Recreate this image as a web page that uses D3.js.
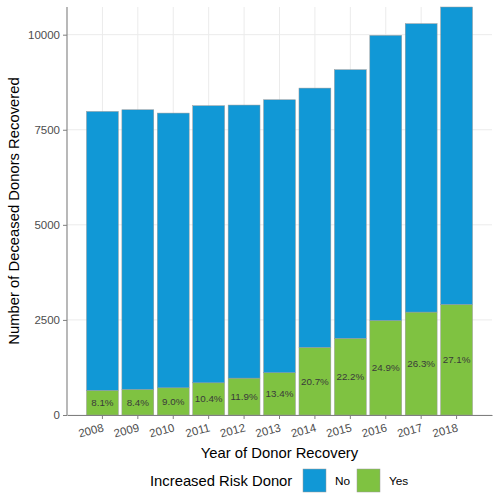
<!DOCTYPE html>
<html>
<head>
<meta charset="utf-8">
<script src="https://cdn.jsdelivr.net/npm/d3@7"></script>
<style>
  body { margin: 0; background: #fff; }
  text { font-family: "Liberation Sans", Arial, sans-serif; }
</style>
</head>
<body>
<div id="chart"></div>
<script>
//////////////  Data  //////////////
const years = ["2008", "2009", "2010", "2011", "2012", "2013", "2014", "2015", "2016", "2017", "2018"];
const totalDonors = [7982, 8026, 7939, 8132, 8150, 8289, 8596, 9079, 9982, 10289, 10728];
const yesDonors = [647, 674, 715, 846, 970, 1111, 1779, 2016, 2485, 2706, 2907];
const pctLabels = ["8.1%", "8.4%", "9.0%", "10.4%", "11.9%", "13.4%", "20.7%", "22.2%", "24.9%", "26.3%", "27.1%"];
const yTicks = [0, 2500, 5000, 7500, 10000];
const groups = ["No", "Yes"];
const colors = { No: "#1198D6", Yes: "#7FC241" };

const data = years.map((y, i) => ({
  year: y,
  yes: yesDonors[i],
  no: totalDonors[i] - yesDonors[i],
  total: totalDonors[i],
  label: pctLabels[i]
}));

//////////////  Init  //////////////
const width = 500;
const height = 500;
const margin = { top: 7, right: 8, bottom: 85, left: 67 };

const svg = d3.select("#chart").append("svg")
  .attr("width", width)
  .attr("height", height);

const x = d3.scaleBand()
  .domain(years)
  .range([margin.left, width - margin.right])
  .paddingInner(0.1)
  .paddingOuter(0.55);

const y = d3.scaleLinear()
  .domain([0, d3.max(totalDonors)])
  .range([height - margin.bottom, margin.top]);

// grid
const grid = svg.append("g");
grid.selectAll("line.h").data(yTicks).join("line")
  .attr("x1", margin.left).attr("x2", width - margin.right)
  .attr("y1", d => y(d)).attr("y2", d => y(d))
  .attr("stroke", "#EBEBEB").attr("stroke-width", 1);
grid.selectAll("line.v").data(years).join("line")
  .attr("x1", d => x(d) + x.bandwidth() / 2).attr("x2", d => x(d) + x.bandwidth() / 2)
  .attr("y1", margin.top).attr("y2", height - margin.bottom)
  .attr("stroke", "#EBEBEB").attr("stroke-width", 1);

// stacked bars
const stack = d3.stack().keys(["yes", "no"]);
const series = stack(data);

svg.append("g").selectAll("g").data(series).join("g")
  .attr("fill", d => (d.key === "yes" ? colors.Yes : colors.No))
  .selectAll("rect").data(d => d).join("rect")
  .attr("x", d => x(d.data.year))
  .attr("width", x.bandwidth())
  .attr("y", d => y(d[1]))
  .attr("height", d => y(d[0]) - y(d[1]))
  .attr("stroke", "#9a9a9a")
  .attr("stroke-width", 0.5);

// percentage labels
svg.append("g").selectAll("text").data(data).join("text")
  .attr("x", d => x(d.year) + x.bandwidth() / 2)
  .attr("y", d => y(d.yes / 2))
  .attr("dy", "0.35em")
  .attr("text-anchor", "middle")
  .attr("font-size", 9.8)
  .attr("fill", "#3a3a3a")
  .text(d => d.label);

// axes
const yAxis = svg.append("g")
  .attr("transform", `translate(${margin.left},0)`)
  .call(d3.axisLeft(y).tickValues(yTicks).tickFormat(d3.format("d"))
    .tickSize(4).tickPadding(3).tickSizeOuter(0));
const xAxis = svg.append("g")
  .attr("transform", `translate(0,${height - margin.bottom})`)
  .call(d3.axisBottom(x).tickSize(4).tickPadding(3).tickSizeOuter(0));

[xAxis, yAxis].forEach(a => {
  a.select(".domain").attr("stroke", "#7f7f7f").attr("stroke-width", 1.1);
  a.selectAll(".tick line").attr("stroke", "#7f7f7f");
  a.selectAll(".tick text").attr("fill", "#4D4D4D").attr("font-size", 11.5)
    .attr("font-family", "Liberation Sans, Arial, sans-serif");
});
// y domain reaching panel top
yAxis.select(".domain").attr("d", `M0,${margin.top}V${height - margin.bottom}`);

xAxis.selectAll(".tick text")
  .attr("text-anchor", "end")
  .attr("dy", 0)
  .attr("transform", "translate(2,16) rotate(-15)")
  .attr("y", 0);

// axis titles
svg.append("text")
  .attr("x", (margin.left + width - margin.right) / 2)
  .attr("y", 458)
  .attr("text-anchor", "middle")
  .attr("font-size", 14.8)
  .attr("fill", "#000")
  .text("Year of Donor Recovery");

svg.append("text")
  .attr("transform", `translate(19,${(margin.top + height - margin.bottom) / 2}) rotate(-90)`)
  .attr("text-anchor", "middle")
  .attr("font-size", 14.8)
  .attr("fill", "#000")
  .text("Number of Deceased Donors Recovered");

// legend
const legend = svg.append("g").attr("transform", "translate(0,469)");
legend.append("text")
  .attr("x", 150).attr("y", 11.5).attr("dy", "0.35em")
  .attr("font-size", 14.8).attr("fill", "#000")
  .text("Increased Risk Donor");
const keyX = [303, 357];
groups.forEach((g, i) => {
  legend.append("rect")
    .attr("x", keyX[i]).attr("y", 0)
    .attr("width", 23).attr("height", 23)
    .attr("fill", colors[g]).attr("stroke", "#9a9a9a").attr("stroke-width", 0.5);
  legend.append("text")
    .attr("x", keyX[i] + 32).attr("y", 11.5).attr("dy", "0.35em")
    .attr("font-size", 11.8).attr("fill", "#000")
    .text(g);
});
</script>
</body>
</html>
